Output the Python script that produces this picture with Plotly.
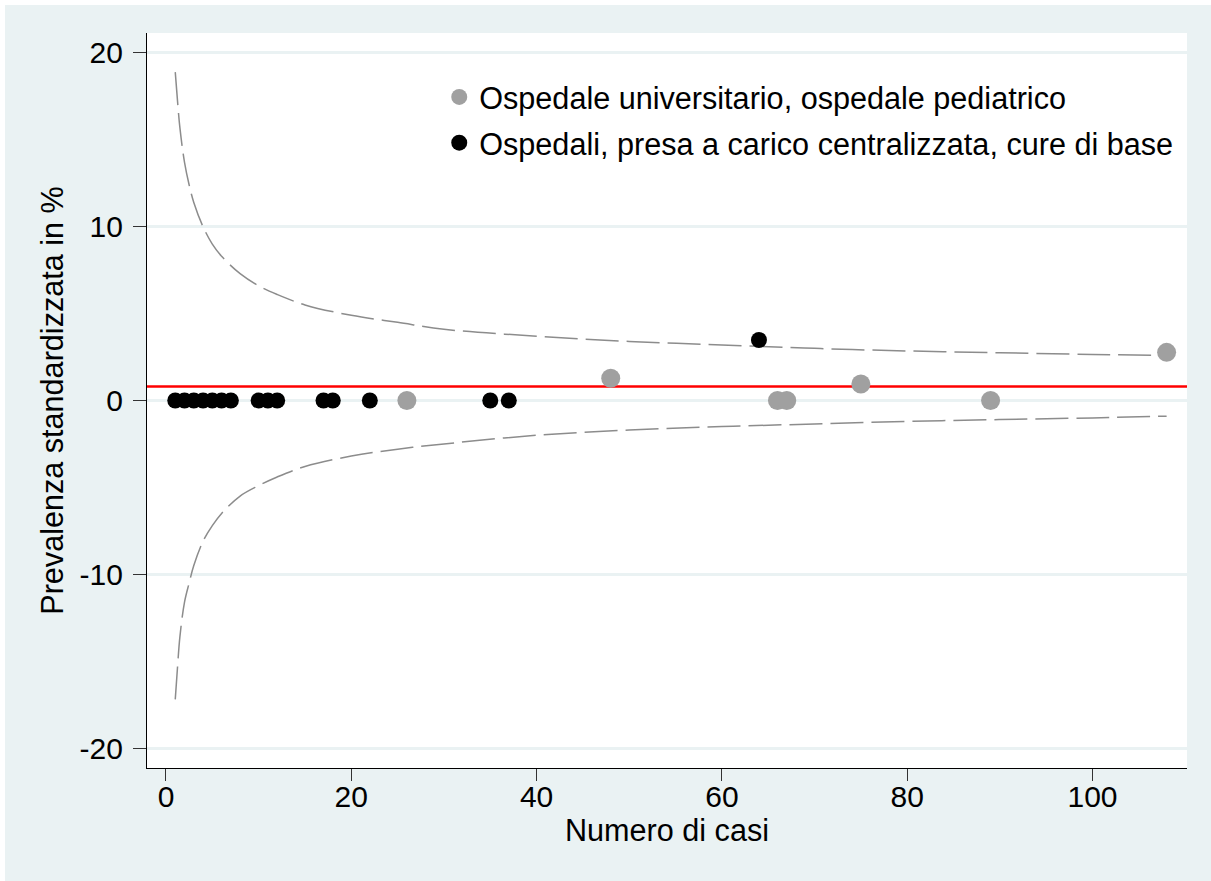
import plotly.graph_objects as go

# ---- data ----
limit_n = [1, 1.25, 1.5, 2, 2.5, 3, 4, 5, 6, 8, 10, 12, 15, 20, 25, 30, 40, 50, 60, 70, 80, 90, 100, 108]
upper_limit = [18.9, 17.2, 15.7, 13.7, 12.4, 11.4, 10.0, 9.0, 8.3, 7.3, 6.6, 6.1, 5.5, 4.9, 4.5, 4.1,
               3.7, 3.4, 3.2, 3.0, 2.85, 2.75, 2.65, 2.6]
lower_limit = [-17.2, -15.3, -13.6, -11.6, -10.5, -9.5, -8.1, -7.2, -6.5, -5.5, -4.9, -4.4, -3.8, -3.2,
               -2.8, -2.5, -2.0, -1.7, -1.5, -1.35, -1.2, -1.1, -1.0, -0.9]

reference_rate = 0.8

uni_label = "Ospedale universitario, ospedale pediatrico"
uni_cases = [26, 48, 66, 67, 75, 89, 108]
uni_prev = [0, 1.28, 0, 0, 0.95, 0, 2.77]

hosp_label = "Ospedali, presa a carico centralizzata, cure di base"
hosp_cases = [1, 2, 3, 4, 5, 6, 7, 10, 11, 12, 17, 18, 22, 35, 37, 64]
hosp_prev = [0, 0, 0, 0, 0, 0, 0, 0, 0, 0, 0, 0, 0, 0, 0, 3.48]

x_ticks = [0, 20, 40, 60, 80, 100]
x_tick_labels = ["0", "20", "40", "60", "80", "100"]
y_ticks = [-20, -10, 0, 10, 20]
y_tick_labels = ["-20", "-10", "0", "10", "20"]

x_title = "Numero di casi"
y_title = "Prevalenza standardizzata in %"

# ---- styling ----
FONT = "Liberation Sans, Arial, sans-serif"
BG = "#EAF2F3"
W, H = 1211, 881
ML, MR, MT, MB = 147, 24, 33, 113
TXT = 30.6

fig = go.Figure()

dash_line = dict(color="#8c8c8c", width=1.5, dash="33px,8px", shape="spline", smoothing=1.0)
fig.add_trace(go.Scatter(x=limit_n, y=upper_limit, mode="lines", line=dash_line,
                         showlegend=False, hoverinfo="skip"))
fig.add_trace(go.Scatter(x=limit_n, y=lower_limit, mode="lines", line=dash_line,
                         showlegend=False, hoverinfo="skip"))

fig.add_trace(go.Scatter(x=uni_cases, y=uni_prev, mode="markers", name=uni_label,
                         legendgroup="a",
                         marker=dict(color="#a0a0a0", size=19, line=dict(width=0))))
fig.add_trace(go.Scatter(x=hosp_cases, y=hosp_prev, mode="markers", name=hosp_label,
                         legendgroup="b",
                         marker=dict(color="#000000", size=16, line=dict(width=0))))

plot_w = W - ML - MR
plot_h = H - MT - MB
# outer light background with a thin white edge on top/left
fig.add_shape(type="rect", xref="paper", yref="paper",
              x0=(5 - ML) / plot_w, x1=(W - ML) / plot_w,
              y0=-(H - MT - plot_h) / plot_h - 0.01, y1=1 + (MT - 5) / plot_h,
              fillcolor=BG, line=dict(width=0), layer="below")
# white plot area
fig.add_shape(type="rect", xref="paper", yref="paper", x0=0, x1=1, y0=0, y1=1,
              fillcolor="#ffffff", line=dict(width=0), layer="below")
# reference line
fig.add_shape(type="line", xref="paper", x0=0, x1=1, yref="y", y0=reference_rate, y1=reference_rate,
              line=dict(color="#ff0000", width=2.5), layer="below")

fig.add_annotation(text=x_title, xref="paper", yref="paper", x=(667 - ML) / plot_w,
                   y=-(830 - (H - MB)) / plot_h, xanchor="center", yanchor="middle",
                   showarrow=False, font=dict(family=FONT, size=TXT, color="#000000"))

fig.update_layout(
    width=W, height=H,
    margin=dict(l=ML, r=MR, t=MT, b=MB, autoexpand=False),
    paper_bgcolor="#ffffff",
    plot_bgcolor="rgba(0,0,0,0)",
    font=dict(family=FONT, size=30, color="#000000"),
    showlegend=True,
    legend=dict(x=0.281, y=0.949, xanchor="left", yanchor="top",
                bgcolor="rgba(0,0,0,0)", font=dict(family=FONT, size=TXT, color="#000000"),
                tracegroupgap=3, traceorder="grouped", itemsizing="trace"),
    xaxis=dict(range=[-2.05, 110.2], tickvals=x_ticks, ticktext=x_tick_labels, ticks="outside",
               ticklen=12, tickwidth=1.3, ticklabelstandoff=-10,
               tickcolor="#333333", showgrid=False, zeroline=False, showline=True, linecolor="#000000",
               linewidth=1.3, tickfont=dict(family=FONT, size=30, color="#000000"),
               automargin=False),
    yaxis=dict(range=[-21.15, 21.15], tickvals=y_ticks, ticktext=y_tick_labels, ticks="outside",
               ticklen=13, tickwidth=1.3, ticklabelstandoff=4,
               tickcolor="#333333", showgrid=True, gridcolor=BG, gridwidth=2.5, zeroline=False,
               showline=True, linecolor="#000000", linewidth=1.3,
               tickfont=dict(family=FONT, size=30, color="#000000"),
               title=dict(text=y_title, standoff=6, font=dict(family=FONT, size=TXT, color="#000000")),
               automargin=False),
)

fig.write_html("out.html")
